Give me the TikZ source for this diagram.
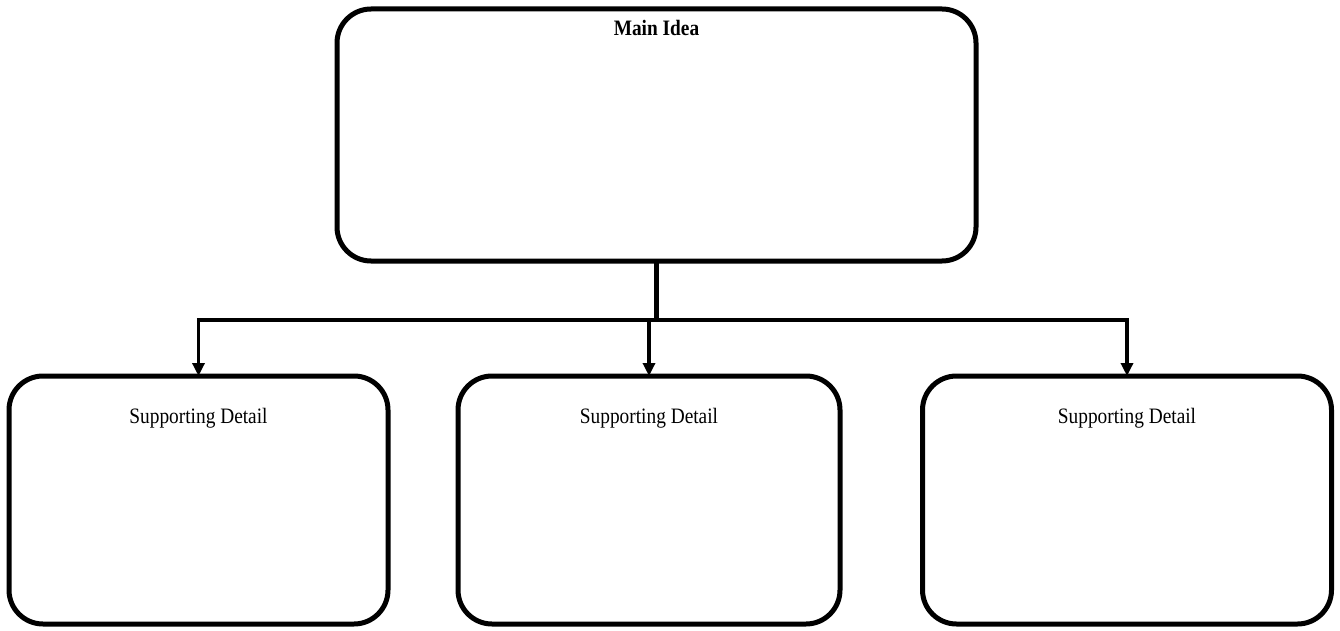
\documentclass[tikz,border=0pt]{standalone}
\usepackage{fontspec}
\setmainfont[FakeStretch=0.88]{Liberation Serif}
\usetikzlibrary{arrows.meta}
\begin{document}
\begin{tikzpicture}[x=1pt,y=-1pt,
  box/.style={draw, line width=5pt, rounded corners=34pt, inner sep=0pt, outer sep=0pt, fill=white},
  bar/.style={line width=4.5pt},
  arr/.style={line width=3.5pt, -{Triangle[length=13pt,width=12pt]}},
  headtext/.style={anchor=base, font=\fontsize{22}{26}\selectfont\bfseries},
  bodytext/.style={anchor=base, font=\fontsize{22}{26}\selectfont},
]
\useasboundingbox (0,0) rectangle (1340,631);

% boxes
\node[box, minimum width=639pt, minimum height=252pt] (main) at (656.5,135) {};
\node[box, minimum width=379pt, minimum height=248pt] (left) at (198.5,500) {};
\node[box, minimum width=382pt, minimum height=248pt] (mid) at (649,500) {};
\node[box, minimum width=409pt, minimum height=248pt] (right) at (1127,500) {};

% labels
\node[headtext] (maint) at ([yshift=-26.5pt]main.north) {Main Idea};
\node[bodytext] (leftt) at ([yshift=-47pt]left.north) {Supporting Detail};
\node[bodytext] (midt) at ([yshift=-47pt]mid.north) {Supporting Detail};
\node[bodytext] (rightt) at ([yshift=-47pt]right.north) {Supporting Detail};

% branching connector
\coordinate (split) at (656.5,320);
\coordinate (lcorner) at (left.north |- split);
\coordinate (rcorner) at (right.north |- split);
\coordinate (mtop) at (mid.north |- split);
\draw[bar] (main.south) -- (split);
\draw[bar, line join=miter] ([xshift=-1.75pt]lcorner) -- ([xshift=1.75pt]rcorner);
\draw[arr] ([yshift=-2pt]lcorner) -- (left.north);
\draw[arr] (mtop) -- (mid.north);
\draw[arr] ([yshift=-2pt]rcorner) -- (right.north);
\end{tikzpicture}
\end{document}
